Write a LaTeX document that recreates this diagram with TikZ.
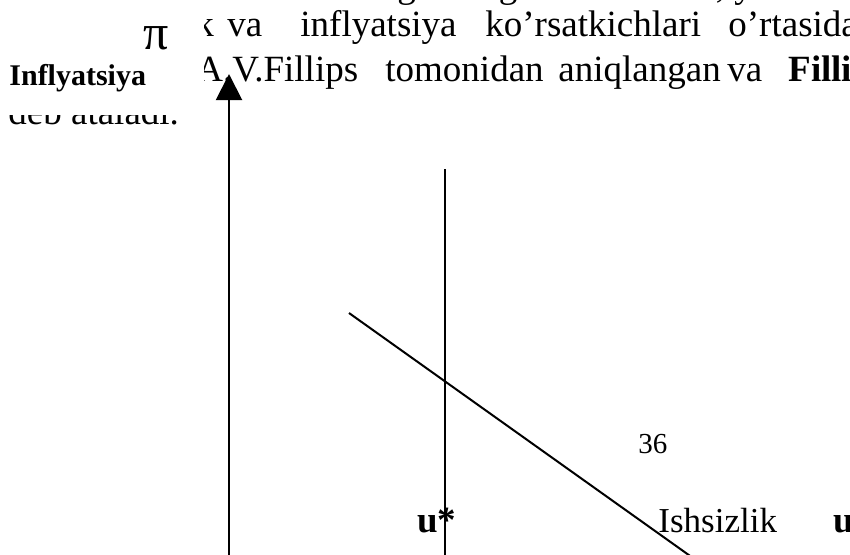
\documentclass[tikz,border=0pt]{standalone}
\usepackage{fontspec}
\setmainfont{Liberation Serif}
\usetikzlibrary{arrows.meta}

\tikzset{
  txt/.style={anchor=base west, inner sep=0pt, font=\fontsize{18.5}{22}\selectfont},
  txtb/.style={txt, font=\fontsize{18.5}{22}\selectfont\bfseries},
  lbl/.style={txt, font=\fontsize{15}{18}\selectfont\bfseries},
  axis/.style={line width=1pt},
}

\begin{document}
\begin{tikzpicture}[x=0.5pt, y=-0.5pt]
    \useasboundingbox (0,0) rectangle (850,554);
    \clip (0,0) rectangle (850,554);
    % Page text behind the figure:
    \node[txt] (w01) at (360,-3) {bog’lanish};
    \node[txt] (w02) at (482,-3) {egri};
    \node[txt] (w03) at (627,-3) {ishlab, ya’ni};
    \node[txt] (w11) at (88,36) {Ishsizlik};
    \node[txt] (w12) at (227,36) {va};
    \node[txt] (w13) at (300,36) {inflyatsiya};
    \node[txt] (w14) at (485,36) {ko’rsatkichlari};
    \node[txt] (w15) at (728,36) {o’rtasidagi};
    \node[txt] (w21) at (196,81) {A.V.Fillips};
    \node[txt] (w22) at (385,81) {tomonidan};
    \node[txt] (w23) at (558,81) {aniqlangan};
    \node[txt] (w24) at (727,81) {va};
    \node[txtb] (w25) at (788,81) {Fillips};
    \node[txt] (w31) at (8,124) {deb ataladi.};
    % Frame with the axis label:
    \fill[white] (-5,-30) rectangle (204,115);
    \node[lbl] (infl) at (9,85) {Inflyatsiya};
    \node[txt, font=\fontsize{25}{30}\selectfont] (pi) at (143,49) {π};
    % Axes and lines:
    \coordinate (O) at (229,560);
    \coordinate (Ytop) at (229,74);
    \draw[axis, -{Triangle[width=13pt, length=13pt]}] (O) -- (Ytop);
    \coordinate (Ubot) at (445,560);
    \coordinate (Utop) at (445,169);
    \draw[axis] (Ubot) -- (Utop);
    \coordinate (Ps) at (349,313);
    \coordinate (Pe) at (693,558);
    \draw[axis] (Ps) -- (Pe);
    \node[txtb] (ustar) at (417,532) {u*};
    \node[txt, font=\fontsize{17.5}{21}\selectfont] (ishs) at (658,532) {Ishsizlik};
    \node[txtb] (u) at (833,532) {u};
    \node[txt, font=\fontsize{14.5}{17}\selectfont] (page) at (638,453) {36};
  \end{tikzpicture}
\end{document}
